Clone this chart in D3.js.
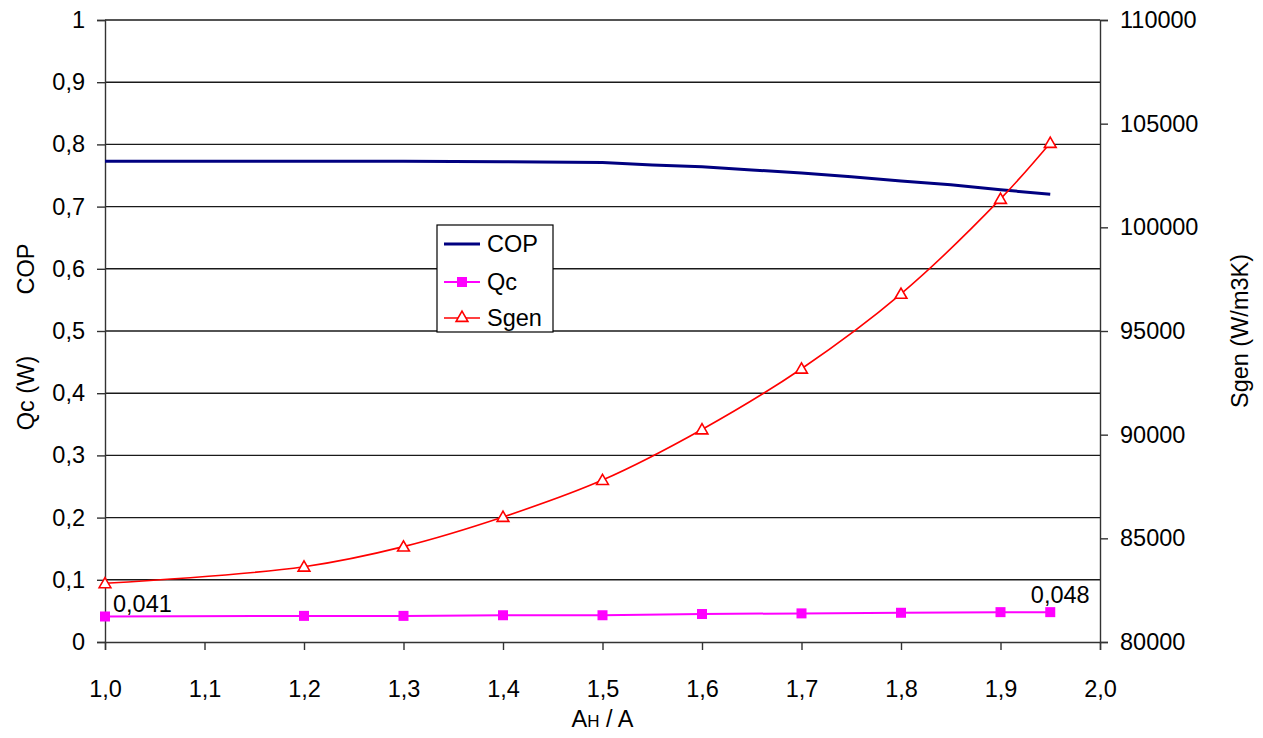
<!DOCTYPE html>
<html>
<head>
<meta charset="utf-8">
<script src="https://cdn.jsdelivr.net/npm/d3@7"></script>
<style>
  html, body { margin: 0; padding: 0; background: #fff; }
  svg { display: block; font-family: "Liberation Sans", Arial, sans-serif; }
  text { fill: #000; }
</style>
</head>
<body>
<svg id="chart" width="1263" height="738"></svg>
<script>
// Ratio A_H / A on the x axis
const ratioCOP = [1.0, 1.1, 1.2, 1.3, 1.4, 1.5, 1.55, 1.6, 1.65, 1.7, 1.75, 1.8, 1.85, 1.9, 1.95];
const copValues = [0.773, 0.773, 0.773, 0.773, 0.772, 0.771, 0.767, 0.764, 0.759, 0.754, 0.748, 0.741, 0.735, 0.727, 0.720];

const ratioPts = [1.0, 1.2, 1.3, 1.4, 1.5, 1.6, 1.7, 1.8, 1.9, 1.95];
const qcValues = [0.041, 0.042, 0.042, 0.043, 0.043, 0.045, 0.046, 0.047, 0.048, 0.048];
const sgenValues = [82830, 83630, 84600, 86030, 87810, 90250, 93180, 96790, 101370, 104070];

const xTicks = [1.0, 1.1, 1.2, 1.3, 1.4, 1.5, 1.6, 1.7, 1.8, 1.9, 2.0];
const leftTicks = [0, 0.1, 0.2, 0.3, 0.4, 0.5, 0.6, 0.7, 0.8, 0.9, 1];
const rightTicks = [80000, 85000, 90000, 95000, 100000, 105000, 110000];
const seriesNames = ["COP", "Qc", "Sgen"];

const svg = d3.select("#chart");
const fs = 23.5;
const plot = { left: 105, right: 1100, top: 20, bottom: 642 };

const x = d3.scaleLinear().domain([1, 2]).range([plot.left, plot.right]);
const yL = d3.scaleLinear().domain([0, 1]).range([plot.bottom, plot.top]);
const yR = d3.scaleLinear().domain([80000, 110000]).range([plot.bottom, plot.top]);

const comma = (v, d) => v.toFixed(d).replace(".", ",");

// horizontal gridlines
svg.append("g").selectAll("line").data(leftTicks.filter(t => t > 0)).join("line")
  .attr("x1", plot.left).attr("x2", plot.right)
  .attr("y1", d => yL(d)).attr("y2", d => yL(d))
  .attr("stroke", "#1a1a1a").attr("stroke-width", 1.4);

// axes
const styleAxis = g => {
  g.selectAll(".domain").attr("stroke", "#333").attr("stroke-width", 1.4);
  g.selectAll(".tick line").attr("stroke", "#333").attr("stroke-width", 1.4);
  g.selectAll("text").attr("font-size", fs).attr("font-family", "Liberation Sans, Arial, sans-serif").attr("fill", "#000");
};

svg.append("g").attr("transform", `translate(${plot.left},0)`)
  .call(d3.axisLeft(yL).tickValues(leftTicks).tickSizeOuter(0).tickSize(8).tickPadding(12)
    .tickFormat(d => (d === 0 || d === 1) ? String(d) : comma(d, 1)))
  .call(styleAxis);

svg.append("g").attr("transform", `translate(${plot.right},0)`)
  .call(d3.axisRight(yR).tickValues(rightTicks).tickSizeOuter(0).tickSize(8).tickPadding(12)
    .tickFormat(d => String(d)))
  .call(styleAxis);

svg.append("g").attr("transform", `translate(0,${plot.bottom})`)
  .call(d3.axisBottom(x).tickValues(xTicks).tickSizeOuter(0).tickSize(8).tickPadding(30)
    .tickFormat(d => comma(d, 1)))
  .call(styleAxis);

// axis titles: left title has two parts with a wide gap
svg.append("text")
  .attr("transform", "translate(34,393) rotate(-90)")
  .attr("text-anchor", "middle").attr("font-size", fs)
  .text("Qc (W)");
svg.append("text")
  .attr("transform", "translate(34,269) rotate(-90)")
  .attr("text-anchor", "middle").attr("font-size", fs)
  .text("COP");

svg.append("text")
  .attr("transform", `translate(1248,${(plot.top + plot.bottom) / 2}) rotate(-90)`)
  .attr("text-anchor", "middle").attr("font-size", fs)
  .text("Sgen (W/m3K)");

const xt = svg.append("text")
  .attr("x", (plot.left + plot.right) / 2).attr("y", 727)
  .attr("text-anchor", "middle").attr("font-size", fs);
xt.append("tspan").text("A");
xt.append("tspan").attr("font-size", 17).text("H");
xt.append("tspan").text(" / A");

// COP line
svg.append("path")
  .datum(ratioCOP.map((r, i) => [r, copValues[i]]))
  .attr("fill", "none").attr("stroke", "#000080").attr("stroke-width", 3)
  .attr("d", d3.line().x(d => x(d[0])).y(d => yL(d[1])));

// Qc line + square markers
const qcData = ratioPts.map((r, i) => [r, qcValues[i]]);
svg.append("path").datum(qcData)
  .attr("fill", "none").attr("stroke", "#ff00ff").attr("stroke-width", 2)
  .attr("d", d3.line().x(d => x(d[0])).y(d => yL(d[1])));
svg.append("g").selectAll("rect").data(qcData).join("rect")
  .attr("x", d => x(d[0]) - 5).attr("y", d => yL(d[1]) - 5)
  .attr("width", 10).attr("height", 10).attr("fill", "#ff00ff");

// Sgen smooth line + open triangle markers
const sgData = ratioPts.map((r, i) => [r, sgenValues[i]]);
svg.append("path").datum(sgData)
  .attr("fill", "none").attr("stroke", "#ff0000").attr("stroke-width", 1.6)
  .attr("d", d3.line().x(d => x(d[0])).y(d => yR(d[1])).curve(d3.curveCatmullRom.alpha(0.5)));
const tri = d3.symbol().type(d3.symbolTriangle).size(60);
svg.append("g").selectAll("path").data(sgData).join("path")
  .attr("transform", d => `translate(${x(d[0])},${yR(d[1]) + 1})`)
  .attr("d", tri).attr("fill", "#fff").attr("stroke", "#ff0000").attr("stroke-width", 1.6);

// data labels on first and last Qc points
const first = qcData[0], last = qcData[qcData.length - 1];
svg.append("text").attr("x", x(first[0]) + 8).attr("y", yL(first[1]) - 4)
  .attr("font-size", fs).text(comma(first[1], 3));
svg.append("text").attr("x", x(last[0]) + 10).attr("y", yL(last[1]) - 9)
  .attr("text-anchor", "middle").attr("font-size", fs).text(comma(last[1], 3));

// legend
const lg = svg.append("g").attr("transform", "translate(437,225)");
lg.append("rect").attr("width", 116).attr("height", 107)
  .attr("fill", "#fff").attr("stroke", "#000").attr("stroke-width", 1.2);
const rowY = [19, 57, 93];
seriesNames.forEach((name, i) => {
  const g = lg.append("g").attr("transform", `translate(0,${rowY[i]})`);
  const col = ["#000080", "#ff00ff", "#ff0000"][i];
  g.append("line").attr("x1", 7).attr("x2", 43).attr("y1", 0).attr("y2", 0)
    .attr("stroke", col).attr("stroke-width", i === 0 ? 3 : (i === 1 ? 2 : 1.6));
  if (i === 1) g.append("rect").attr("x", 20).attr("y", -5).attr("width", 10).attr("height", 10).attr("fill", col);
  if (i === 2) g.append("path").attr("transform", "translate(25,0)").attr("d", tri)
    .attr("fill", "#fff").attr("stroke", col).attr("stroke-width", 1.6);
  g.append("text").attr("x", 50).attr("y", 0).attr("dy", "0.36em")
    .attr("font-size", fs).text(name);
});
</script>
</body>
</html>
